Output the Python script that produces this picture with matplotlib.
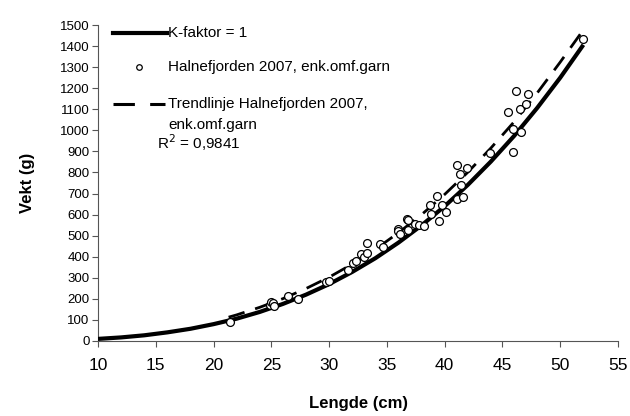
import matplotlib
matplotlib.use("Agg")
import matplotlib.pyplot as plt
from matplotlib.lines import Line2D

plt.rcParams['font.family'] = ['Liberation Sans', 'DejaVu Sans']

# Scatter data: Halnefjorden 2007, enk.omf.garn
length_cm = [21.4, 24.9, 25.0, 25.1, 25.2, 26.4, 27.3, 29.7, 30.0, 31.6,
             32.1, 32.3, 32.8, 33.0, 33.3, 33.3, 34.4, 34.7, 36.0, 36.0,
             36.1, 36.7, 36.8, 36.8, 37.4, 37.8, 38.2, 38.7, 38.8, 39.3,
             39.5, 39.8, 40.1, 41.1, 41.1, 41.3, 41.4, 41.6, 41.9, 43.9,
             45.5, 45.9, 45.9, 46.2, 46.5, 46.6, 47.0, 47.2, 52.0]
weight_g = [88, 170, 185, 178, 165, 214, 200, 281, 286, 337,
            372, 381, 414, 400, 420, 464, 459, 445, 533, 520,
            510, 581, 575, 527, 557, 550, 546, 645, 604, 688,
            569, 645, 614, 834, 672, 794, 740, 683, 819, 893,
            1087, 1007, 898, 1189, 1101, 991, 1126, 1172, 1432]

# K-faktor = 1 reference line
k_length = [10, 12, 14, 16, 18, 20, 22, 24, 26, 28, 30, 32, 34, 36, 38,
            40, 42, 44, 46, 48, 50, 52]
k_weight = [10, 17, 27, 41, 58, 80, 106, 138, 176, 220, 270, 328, 393, 467,
            549, 640, 741, 852, 973, 1106, 1250, 1406]

# Trendline (power) Halnefjorden 2007
trend_length = [21.3, 22, 24, 26, 28, 30, 32, 34, 36, 38, 40, 42, 44, 46,
                48, 50, 52]
trend_weight = [113, 124, 160, 201, 249, 303, 365, 435, 514, 600, 696, 801,
                916, 1040, 1177, 1324, 1477]

x_ticks = [10, 15, 20, 25, 30, 35, 40, 45, 50, 55]
y_ticks = list(range(0, 1501, 100))

legend_labels = ['K-faktor = 1', 'Halnefjorden 2007, enk.omf.garn',
                 'Trendlinje Halnefjorden 2007,', 'enk.omf.garn']
r2_label = 'R$^2$ = 0,9841'

fig = plt.figure(figsize=(6.3, 4.16), dpi=100)
ax = fig.add_axes([0.1556, 0.1803, 0.8254, 0.7596])

ax.plot(k_length, k_weight, color='black', lw=3.0, solid_capstyle='butt',
        zorder=3)
ax.plot(trend_length, trend_weight, color='black', lw=2.0,
        dashes=(6, 4), zorder=4)
ax.scatter(length_cm, weight_g, s=32, facecolors='white',
           edgecolors='black', linewidths=0.9, zorder=5)

ax.set_xlim(10, 55)
ax.set_ylim(0, 1500)
ax.set_xticks(x_ticks)
ax.set_yticks(y_ticks)
ax.tick_params(axis='x', labelsize=12.5, direction='out', length=4, width=0.8,
               pad=8)
ax.tick_params(axis='y', labelsize=9.5, direction='out', length=4, width=0.8,
               pad=2)
for s in ['top', 'right']:
    ax.spines[s].set_visible(False)
for s in ['left', 'bottom']:
    ax.spines[s].set_linewidth(0.8)
    ax.spines[s].set_color('#555555')
ax.tick_params(colors='#555555', labelcolor='black')

ax.set_xlabel('Lengde (cm)', fontsize=12, fontweight='bold', labelpad=17)
ax.set_ylabel('Vekt (g)', fontsize=12, fontweight='bold', labelpad=18)

# Legend (manual, Excel style)
T = ax.transAxes
ax.add_line(Line2D([0.0288, 0.1327], [0.9747, 0.9747], transform=T,
                   color='black', lw=3.0, clip_on=False))
ax.add_line(Line2D([0.0788], [0.867], transform=T, ls='none', marker='o',
                   markersize=4, markerfacecolor='white',
                   markeredgecolor='black', markeredgewidth=0.9,
                   clip_on=False))
ax.add_line(Line2D([0.0288, 0.1288], [0.75, 0.75], transform=T,
                   color='black', lw=2.2, dashes=(7, 5), clip_on=False))
leg_x = 0.1346
for lab, yy in zip(legend_labels, [0.9747, 0.867, 0.75, 0.6835]):
    ax.text(leg_x, yy, lab, transform=T, fontsize=11, va='center',
            ha='left')
ax.text(0.1135, 0.6266, r2_label, transform=T, fontsize=11, va='center',
        ha='left')

fig.savefig('out.png', dpi=100)
